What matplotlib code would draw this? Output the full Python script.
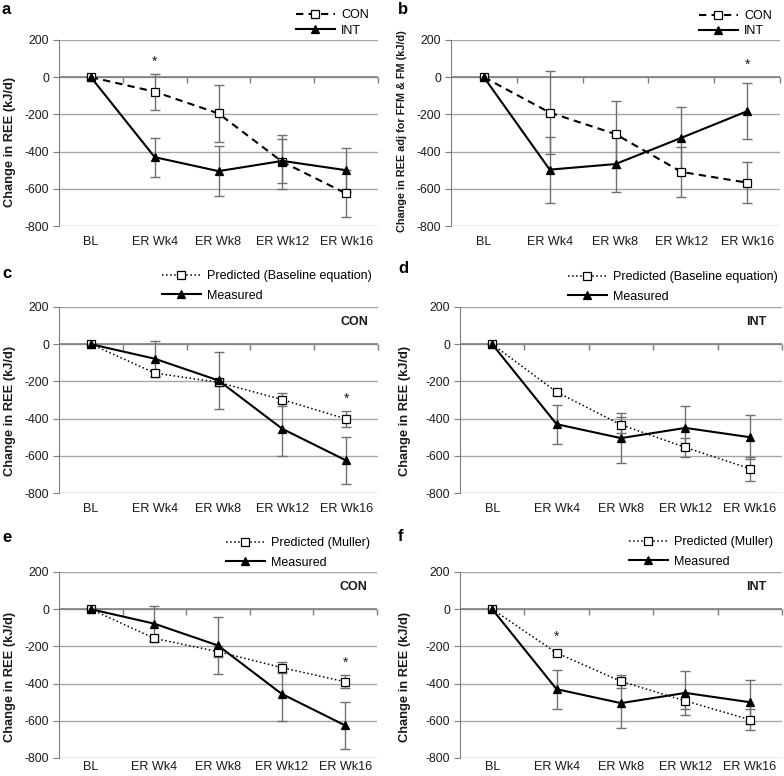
import matplotlib
matplotlib.use("Agg")
import matplotlib.pyplot as plt

plt.rcParams.update({
    "font.family": ["Liberation Sans", "DejaVu Sans"],
    "axes.unicode_minus": False,
})

GRID = "#a6a6a6"; AXIS = "#7f7f7f"; ERR = "#707070"; TXT = "#1a1a1a"

categories = ["BL", "ER Wk4", "ER Wk8", "ER Wk12", "ER Wk16"]

# change in REE (kJ/d), mean and error
con_ree = [0, -78, -195, -455, -625]
con_ree_err = [0, 97, 155, 145, 127]
int_ree = [0, -430, -505, -450, -500]
int_ree_err = [0, 105, 133, 118, 117]

# change in REE adjusted for FFM & FM
con_adj = [0, -190, -306, -509, -567]
con_adj_err = [0, 225, 180, 135, 110]
int_adj = [0, -497, -467, -326, -183]
int_adj_err = [0, 177, 152, 165, 150]

# predicted (baseline equation)
con_pred_base = [0, -155, -205, -298, -402]
con_pred_base_err = [0, 15, 20, 33, 45]
int_pred_base = [0, -257, -433, -555, -669]
int_pred_base_err = [0, 15, 42, 50, 65]

# predicted (Muller)
con_pred_muller = [0, -157, -228, -314, -390]
con_pred_muller_err = [0, 12, 28, 30, 35]
int_pred_muller = [0, -235, -388, -493, -594]
int_pred_muller_err = [0, 12, 35, 42, 57]

# significance stars: (category index, y)
stars_a = [(1, 83)]
stars_b = [(4, 66)]
stars_c = [(4, -292)]
stars_e = [(4, -288)]
stars_f = [(1, -148)]

W, H = 784, 776
fig = plt.figure(figsize=(W / 100, H / 100), dpi=100)


def add_ax(l, t, r, b):
    return fig.add_axes([l / W, 1 - b / H, (r - l) / W, (b - t) / H])


def style(ax, ylabel, label_px, label_dy=0, ylsize=9.3, xpad=7):
    x = range(len(categories))
    ax.set_xlim(-0.5, len(categories) - 0.5)
    ax.set_ylim(-800, 200)
    ax.set_yticks(range(-800, 201, 200))
    ax.set_xticks(list(x))
    ax.set_xticklabels(categories, fontsize=9.1, color=TXT)
    ax.tick_params(axis="x", length=0, pad=xpad)
    ax.tick_params(axis="y", labelsize=8.8, labelcolor=TXT, length=4, color=AXIS, pad=3)
    ax.grid(axis="y", color=GRID, lw=1.0)
    ax.set_axisbelow(True)
    for s in ("top", "right", "bottom"):
        ax.spines[s].set_visible(False)
    ax.spines["left"].set_color(AXIS)
    ax.axhline(0, color=AXIS, lw=1.2, zorder=1)
    sec = ax.secondary_xaxis(0.8)
    sec.set_alignment("bottom")
    sec.set_xticks([i + 0.5 for i in x])
    sec.set_xticklabels([])
    sec.tick_params(direction="out", length=4, color=AXIS, width=1)
    sec.spines["bottom"].set_visible(False)
    ax.set_ylabel(ylabel, fontsize=ylsize, fontweight="bold", color=TXT, va="center")
    pos = ax.get_position()
    ax.yaxis.set_label_coords(label_px / (pos.width * W), 0.5 - label_dy / (pos.height * H))


def series(ax, y, err, ls, marker, lw):
    x = list(range(len(categories)))
    face = "white" if marker == "s" else "black"
    ax.errorbar(x, y, yerr=err, fmt="none", ecolor=ERR, elinewidth=1.0,
                capsize=3.5, capthick=1.0, zorder=2)
    ln, = ax.plot(x, y, color="black", ls=ls, lw=lw, marker=marker, ms=6 if marker == "s" else 5.6,
                  mfc=face, mec="black", mew=0.9, zorder=3)
    return ln


def legend(ax, handles, labels, left, top, spacing):
    ax.legend(handles, labels, loc="upper left", bbox_to_anchor=(left / W, 1 - top / H),
              bbox_transform=fig.transFigure, frameon=False, fontsize=9.0, borderpad=0,
              borderaxespad=0, handlelength=3.1, handletextpad=0.5, labelspacing=spacing,
              numpoints=1)


def stars(ax, pts):
    for i, y in pts:
        ax.text(i, y, "*", ha="center", va="center", fontsize=10, color=TXT)


def panel_tag(letter, x, y):
    fig.text(x / W, 1 - y / H, letter, fontsize=12, fontweight="bold", va="top", ha="left")


# a
ax = add_ax(59, 40, 378, 226)
style(ax, "Change in REE (kJ/d)", -49, label_dy=9)
h1 = series(ax, con_ree, con_ree_err, (0, (3.5, 2.5)), "s", 1.5)
h2 = series(ax, int_ree, int_ree_err, "-", "^", 1.5)
legend(ax, [h1, h2], ["CON", "INT"], 296, 9, 0.28)
stars(ax, stars_a)
panel_tag("a", 2, 2)

# b
ax = add_ax(451, 40, 780, 226)
style(ax, "Change in REE adj for FFM & FM (kJ/d)", -49, label_dy=-2, ylsize=7.8)
h1 = series(ax, con_adj, con_adj_err, (0, (3.5, 2.5)), "s", 1.5)
h2 = series(ax, int_adj, int_adj_err, "-", "^", 1.5)
legend(ax, [h1, h2], ["CON", "INT"], 699, 10, 0.28)
stars(ax, stars_b)
panel_tag("b", 398, 2)

# c
ax = add_ax(59, 307, 378, 493)
style(ax, "Change in REE (kJ/d)", -49, label_dy=11)
h1 = series(ax, con_pred_base, con_pred_base_err, ":", "s", 1.1)
h2 = series(ax, con_ree, con_ree_err, "-", "^", 1.5)
legend(ax, [h1, h2], ["Predicted (Baseline equation)", "Measured"], 162, 270, 0.62)
ax.text(0.969, 0.92, "CON", transform=ax.transAxes, ha="right", va="center",
        fontsize=9, fontweight="bold", color=TXT)
stars(ax, stars_c)
panel_tag("c", 2, 266)

# d
ax = add_ax(460, 307, 782, 493)
style(ax, "Change in REE (kJ/d)", -55, label_dy=11)
h1 = series(ax, int_pred_base, int_pred_base_err, ":", "s", 1.1)
h2 = series(ax, int_ree, int_ree_err, "-", "^", 1.5)
legend(ax, [h1, h2], ["Predicted (Baseline equation)", "Measured"], 568, 271, 0.62)
ax.text(0.953, 0.92, "INT", transform=ax.transAxes, ha="right", va="center",
        fontsize=9, fontweight="bold", color=TXT)
panel_tag("d", 398, 261)

# e
ax = add_ax(59, 572, 377, 758)
style(ax, "Change in REE (kJ/d)", -49, label_dy=12, xpad=2)
h1 = series(ax, con_pred_muller, con_pred_muller_err, ":", "s", 1.1)
h2 = series(ax, con_ree, con_ree_err, "-", "^", 1.5)
legend(ax, [h1, h2], ["Predicted (Muller)", "Measured"], 226, 537, 0.62)
ax.text(0.969, 0.92, "CON", transform=ax.transAxes, ha="right", va="center",
        fontsize=9, fontweight="bold", color=TXT)
stars(ax, stars_e)
panel_tag("e", 2, 530)

# f
ax = add_ax(460, 572, 782, 758)
style(ax, "Change in REE (kJ/d)", -55, label_dy=12, xpad=2)
h1 = series(ax, int_pred_muller, int_pred_muller_err, ":", "s", 1.1)
h2 = series(ax, int_ree, int_ree_err, "-", "^", 1.5)
legend(ax, [h1, h2], ["Predicted (Muller)", "Measured"], 629, 536, 0.62)
ax.text(0.953, 0.92, "INT", transform=ax.transAxes, ha="right", va="center",
        fontsize=9, fontweight="bold", color=TXT)
stars(ax, stars_f)
panel_tag("f", 398, 529)

fig.savefig("out.png", dpi=100)
